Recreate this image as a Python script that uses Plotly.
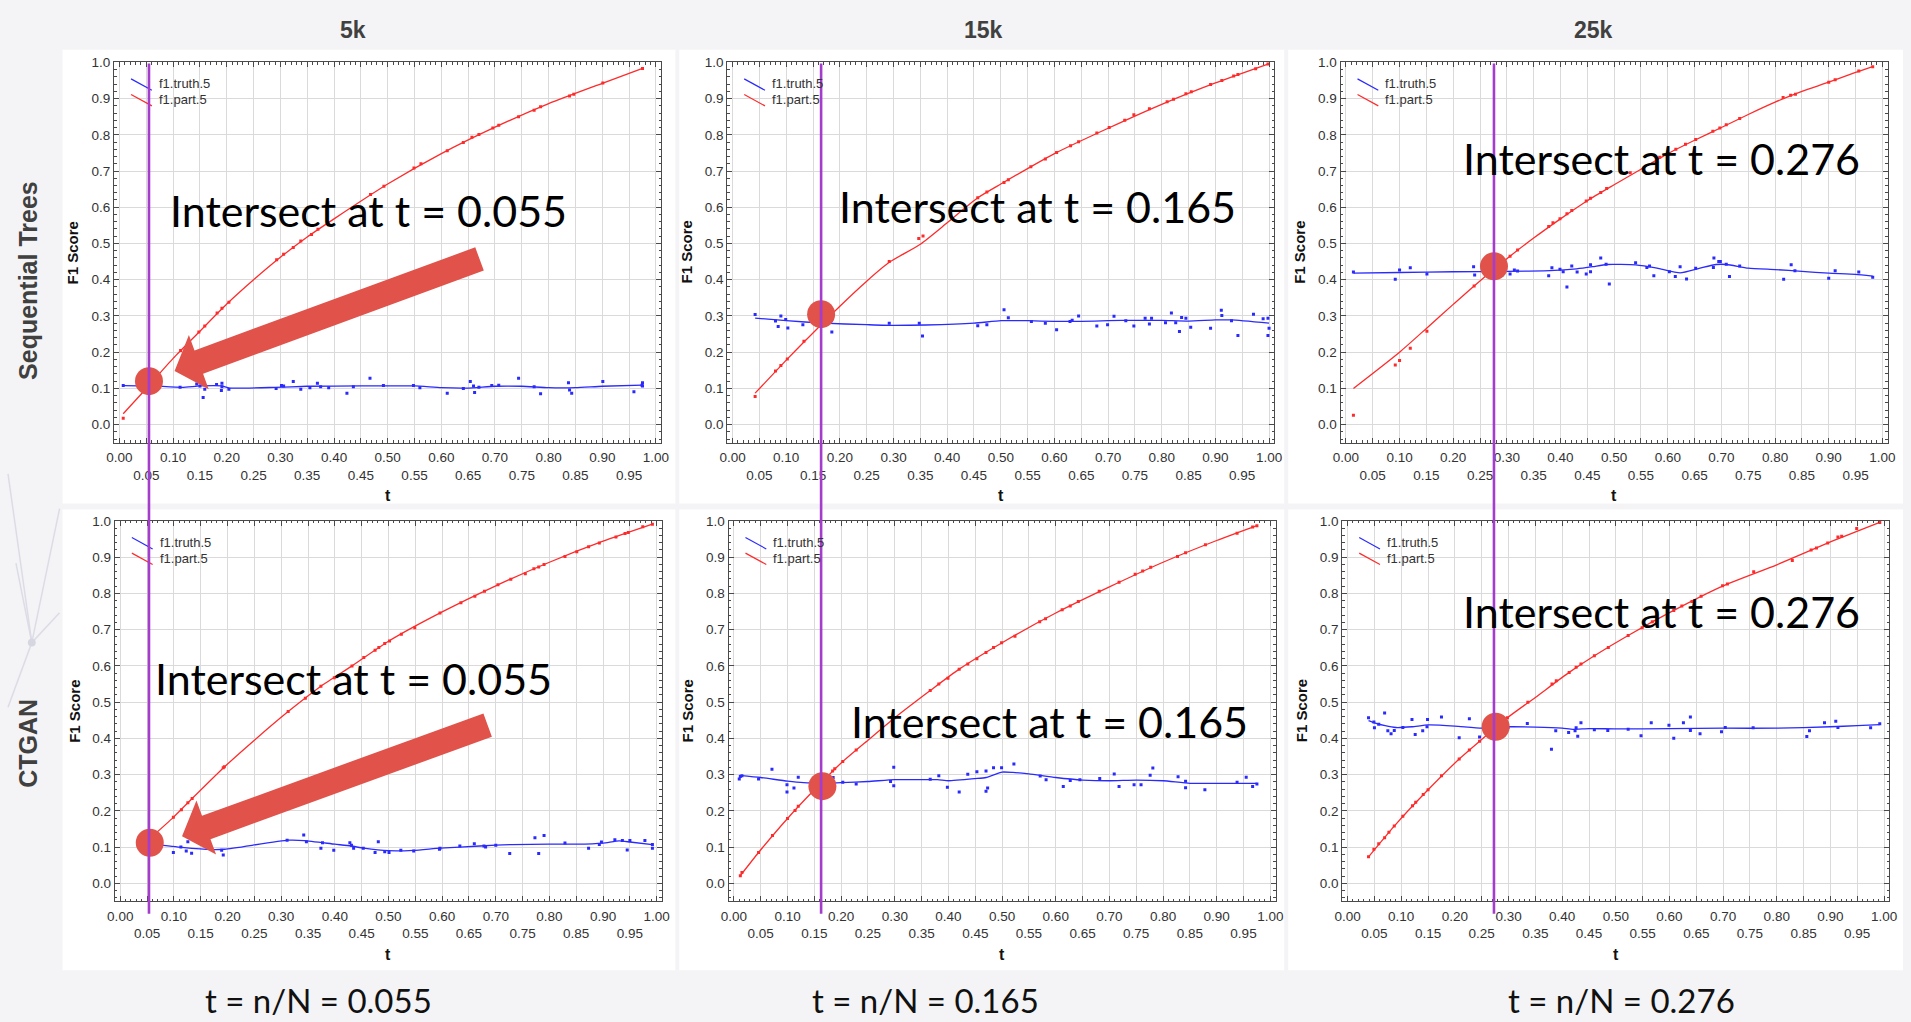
import math
import plotly.graph_objects as go

# ---------------------------------------------------------------------------
# F1 score versus t for the two synthesisers (rows) and three sizes (columns).
# "truth" = f1.truth.5 (blue), "part" = f1.part.5 (red); *_fit = smoothed line.
# ---------------------------------------------------------------------------
row_labels = ["Sequential Trees", "CTGAN"]
col_labels = ["5k", "15k", "25k"]
intersect_t = [0.055, 0.165, 0.276]
intersect_f1 = [0.120, 0.305, 0.437, 0.112, 0.268, 0.432]

# --- Sequential Trees, 5k ---
st5_part_t = [0.007, 0.114, 0.148, 0.159, 0.182, 0.191, 0.204, 0.293, 0.306, 0.324, 0.338, 0.358, 0.370, 0.468, 0.493,
              0.549, 0.562, 0.611, 0.641, 0.657, 0.670, 0.696, 0.707, 0.744, 0.773, 0.785, 0.839, 0.847, 0.901, 0.975]
st5_part_f1 = [0.018, 0.205, 0.256, 0.272, 0.308, 0.321, 0.338, 0.455, 0.470, 0.489, 0.507, 0.525, 0.539, 0.635, 0.658,
               0.708, 0.720, 0.756, 0.779, 0.793, 0.801, 0.819, 0.826, 0.850, 0.868, 0.877, 0.907, 0.912, 0.943, 0.983]
st5_part_fit_t = [0.007, 0.05, 0.1, 0.15, 0.2, 0.25, 0.3, 0.35, 0.4, 0.5, 0.6, 0.7, 0.8, 0.9, 0.975]
st5_part_fit_f1 = [0.030, 0.100, 0.183, 0.258, 0.333, 0.400, 0.462, 0.518, 0.568, 0.664, 0.748, 0.821, 0.886, 0.942, 0.983]
st5_truth_t = [0.007, 0.113, 0.144, 0.150, 0.156, 0.159, 0.181, 0.191, 0.191, 0.190, 0.204, 0.292, 0.302, 0.306, 0.324,
               0.338, 0.355, 0.369, 0.375, 0.390, 0.424, 0.436, 0.467, 0.492, 0.548, 0.560, 0.611, 0.641, 0.654, 0.660,
               0.662, 0.670, 0.694, 0.707, 0.744, 0.773, 0.785, 0.837, 0.839, 0.843, 0.901, 0.959, 0.974, 0.975, 0.975]
st5_truth_f1 = [0.108, 0.103, 0.112, 0.107, 0.075, 0.098, 0.111, 0.114, 0.105, 0.094, 0.098, 0.100, 0.108, 0.107, 0.119,
                0.098, 0.102, 0.114, 0.105, 0.102, 0.087, 0.105, 0.128, 0.108, 0.108, 0.102, 0.087, 0.100, 0.119, 0.107,
                0.089, 0.103, 0.108, 0.109, 0.128, 0.105, 0.085, 0.116, 0.096, 0.087, 0.119, 0.091, 0.109, 0.116, 0.107]
st5_truth_fit_t = [0.007, 0.06, 0.117, 0.15, 0.19, 0.205, 0.29, 0.35, 0.45, 0.55, 0.6, 0.65, 0.7, 0.75, 0.8, 0.85, 0.9, 0.975]
st5_truth_fit_f1 = [0.108, 0.107, 0.103, 0.107, 0.107, 0.101, 0.103, 0.106, 0.107, 0.107, 0.102, 0.101, 0.106, 0.106,
                    0.102, 0.102, 0.106, 0.109]

# --- Sequential Trees, 15k ---
st15_part_t = [0.042, 0.080, 0.090, 0.102, 0.133, 0.292, 0.347, 0.355, 0.457, 0.474, 0.506, 0.514, 0.556, 0.583, 0.604,
               0.630, 0.645, 0.679, 0.702, 0.731, 0.748, 0.777, 0.810, 0.822, 0.845, 0.855, 0.891, 0.912, 0.934, 0.942,
               0.975, 0.998]
st15_part_f1 = [0.078, 0.148, 0.163, 0.181, 0.230, 0.450, 0.514, 0.521, 0.626, 0.642, 0.668, 0.676, 0.712, 0.733, 0.751,
                0.770, 0.781, 0.805, 0.820, 0.840, 0.855, 0.872, 0.891, 0.898, 0.913, 0.919, 0.939, 0.950, 0.962, 0.966,
                0.982, 0.995]
st15_part_fit_t = [0.042, 0.1, 0.133, 0.2, 0.25, 0.292, 0.35, 0.4, 0.457, 0.5, 0.6, 0.7, 0.8, 0.9, 0.998]
st15_part_fit_f1 = [0.087, 0.178, 0.228, 0.327, 0.396, 0.448, 0.498, 0.557, 0.626, 0.664, 0.748, 0.818, 0.884, 0.943, 0.995]
st15_truth_t = [0.042, 0.080, 0.085, 0.090, 0.099, 0.103, 0.131, 0.185, 0.292, 0.348, 0.354, 0.457, 0.474, 0.506, 0.514,
                0.557, 0.583, 0.604, 0.629, 0.633, 0.645, 0.679, 0.699, 0.711, 0.733, 0.748, 0.769, 0.777, 0.781, 0.807,
                0.818, 0.826, 0.833, 0.837, 0.845, 0.854, 0.891, 0.911, 0.912, 0.930, 0.942, 0.971, 0.989, 0.998, 1.000,
                0.998]
st15_truth_f1 = [0.304, 0.286, 0.271, 0.300, 0.290, 0.267, 0.276, 0.256, 0.280, 0.280, 0.245, 0.273, 0.276, 0.317, 0.295,
                 0.285, 0.280, 0.262, 0.285, 0.288, 0.300, 0.272, 0.276, 0.299, 0.287, 0.272, 0.294, 0.278, 0.294, 0.281,
                 0.308, 0.281, 0.257, 0.296, 0.294, 0.269, 0.266, 0.316, 0.301, 0.287, 0.246, 0.305, 0.292, 0.294, 0.266,
                 0.246]
st15_truth_fit_t = [0.042, 0.1, 0.17, 0.25, 0.3, 0.36, 0.45, 0.5, 0.55, 0.6, 0.65, 0.7, 0.75, 0.8, 0.85, 0.9, 0.93, 1.0]
st15_truth_fit_f1 = [0.294, 0.287, 0.280, 0.276, 0.274, 0.275, 0.280, 0.287, 0.287, 0.285, 0.285, 0.287, 0.288, 0.288,
                     0.286, 0.289, 0.289, 0.280]

# --- Sequential Trees, 25k ---
st25_part_t = [0.014, 0.092, 0.100, 0.120, 0.151, 0.239, 0.306, 0.320, 0.378, 0.386, 0.399, 0.412, 0.421, 0.448, 0.456,
               0.475, 0.486, 0.530, 0.585, 0.615, 0.633, 0.652, 0.684, 0.697, 0.709, 0.734, 0.815, 0.829, 0.838, 0.900,
               0.912, 0.956, 0.982]
st25_part_f1 = [0.026, 0.165, 0.177, 0.211, 0.258, 0.383, 0.465, 0.482, 0.547, 0.557, 0.568, 0.582, 0.591, 0.617, 0.625,
                0.641, 0.652, 0.695, 0.738, 0.760, 0.774, 0.787, 0.810, 0.819, 0.828, 0.845, 0.903, 0.909, 0.912, 0.945,
                0.952, 0.976, 0.988]
st25_part_fit_t = [0.014, 0.1, 0.151, 0.2, 0.239, 0.3, 0.35, 0.4, 0.45, 0.5, 0.55, 0.6, 0.65, 0.7, 0.75, 0.8, 0.85, 0.9,
                   0.95, 0.982]
st25_part_fit_f1 = [0.100, 0.200, 0.267, 0.332, 0.383, 0.458, 0.515, 0.568, 0.618, 0.662, 0.705, 0.748, 0.785, 0.820,
                    0.856, 0.890, 0.920, 0.945, 0.972, 0.988]
st25_truth_t = [0.014, 0.092, 0.100, 0.120, 0.151, 0.238, 0.240, 0.306, 0.314, 0.320, 0.378, 0.384, 0.399, 0.405, 0.412,
                0.421, 0.431, 0.448, 0.456, 0.456, 0.475, 0.485, 0.491, 0.540, 0.561, 0.566, 0.574, 0.603, 0.614, 0.623,
                0.635, 0.652, 0.685, 0.686, 0.695, 0.698, 0.709, 0.715, 0.734, 0.816, 0.830, 0.837, 0.900, 0.912, 0.956,
                0.982]
st25_truth_f1 = [0.421, 0.401, 0.427, 0.433, 0.416, 0.436, 0.413, 0.416, 0.427, 0.424, 0.411, 0.433, 0.429, 0.422, 0.380,
                 0.438, 0.421, 0.416, 0.441, 0.422, 0.460, 0.443, 0.388, 0.447, 0.434, 0.438, 0.411, 0.422, 0.409, 0.436,
                 0.402, 0.432, 0.434, 0.460, 0.450, 0.450, 0.443, 0.409, 0.438, 0.401, 0.441, 0.425, 0.404, 0.425, 0.421,
                 0.407]
st25_truth_fit_t = [0.014, 0.1, 0.2, 0.3, 0.38, 0.43, 0.46, 0.486, 0.54, 0.58, 0.623, 0.66, 0.69, 0.71, 0.75, 0.8, 0.85,
                    0.9, 0.95, 0.982]
st25_truth_fit_f1 = [0.418, 0.420, 0.422, 0.423, 0.425, 0.430, 0.436, 0.442, 0.441, 0.432, 0.419, 0.432, 0.442, 0.442,
                     0.432, 0.428, 0.423, 0.418, 0.415, 0.410]

# --- CTGAN, 5k ---
cg5_part_t = [0.099, 0.114, 0.126, 0.134, 0.192, 0.194, 0.313, 0.345, 0.374, 0.399, 0.432, 0.454, 0.475, 0.482, 0.493,
              0.502, 0.524, 0.549, 0.596, 0.635, 0.661, 0.679, 0.704, 0.728, 0.755, 0.771, 0.780, 0.790, 0.829, 0.851,
              0.873, 0.893, 0.924, 0.941, 0.947, 0.974, 0.992]
cg5_part_f1 = [0.182, 0.203, 0.222, 0.234, 0.319, 0.322, 0.474, 0.511, 0.544, 0.567, 0.600, 0.623, 0.643, 0.651, 0.662,
               0.669, 0.687, 0.705, 0.746, 0.774, 0.792, 0.806, 0.824, 0.839, 0.854, 0.868, 0.873, 0.880, 0.902, 0.915,
               0.929, 0.939, 0.956, 0.965, 0.968, 0.984, 0.991]
cg5_part_fit_t = [0.06, 0.099, 0.134, 0.194, 0.25, 0.313, 0.374, 0.432, 0.5, 0.6, 0.7, 0.8, 0.9, 0.992]
cg5_part_fit_f1 = [0.130, 0.182, 0.234, 0.321, 0.395, 0.474, 0.544, 0.600, 0.668, 0.749, 0.821, 0.886, 0.944, 0.991]
cg5_truth_t = [0.099, 0.113, 0.123, 0.126, 0.133, 0.189, 0.192, 0.311, 0.342, 0.347, 0.374, 0.377, 0.398, 0.428, 0.431,
               0.435, 0.453, 0.475, 0.481, 0.493, 0.501, 0.523, 0.547, 0.595, 0.596, 0.633, 0.660, 0.678, 0.681, 0.700,
               0.726, 0.773, 0.780, 0.790, 0.829, 0.873, 0.893, 0.897, 0.922, 0.936, 0.945, 0.950, 0.978, 0.992, 0.992]
cg5_truth_f1 = [0.085, 0.100, 0.089, 0.115, 0.083, 0.091, 0.078, 0.119, 0.133, 0.115, 0.097, 0.112, 0.091, 0.112, 0.105,
                0.097, 0.097, 0.085, 0.115, 0.087, 0.085, 0.091, 0.089, 0.094, 0.097, 0.103, 0.109, 0.103, 0.100, 0.105,
                0.082, 0.126, 0.082, 0.132, 0.111, 0.097, 0.107, 0.114, 0.120, 0.118, 0.092, 0.118, 0.118, 0.107, 0.097]
cg5_truth_fit_t = [0.06, 0.115, 0.171, 0.195, 0.313, 0.343, 0.40, 0.43, 0.454, 0.50, 0.547, 0.596, 0.67, 0.73, 0.80,
                   0.85, 0.90, 0.93, 0.95, 0.992]
cg5_truth_fit_f1 = [0.108, 0.099, 0.093, 0.094, 0.119, 0.118, 0.108, 0.103, 0.097, 0.090, 0.091, 0.097, 0.103, 0.107,
                    0.108, 0.108, 0.111, 0.117, 0.114, 0.107]

# --- CTGAN, 15k ---
cg15_part_t = [0.012, 0.015, 0.046, 0.072, 0.100, 0.114, 0.120, 0.184, 0.188, 0.203, 0.228, 0.300, 0.366, 0.382, 0.399,
               0.420, 0.436, 0.453, 0.470, 0.484, 0.499, 0.524, 0.570, 0.581, 0.612, 0.627, 0.642, 0.681, 0.718, 0.748,
               0.762, 0.777, 0.827, 0.842, 0.879, 0.938, 0.967, 0.975]
cg15_part_f1 = [0.021, 0.030, 0.085, 0.132, 0.179, 0.201, 0.213, 0.310, 0.316, 0.336, 0.368, 0.457, 0.532, 0.550, 0.566,
                0.591, 0.605, 0.620, 0.637, 0.651, 0.664, 0.682, 0.722, 0.730, 0.755, 0.765, 0.778, 0.806, 0.831, 0.853,
                0.862, 0.872, 0.902, 0.912, 0.934, 0.966, 0.983, 0.987]
cg15_part_fit_t = [0.012, 0.046, 0.1, 0.15, 0.2, 0.25, 0.3, 0.366, 0.42, 0.5, 0.6, 0.7, 0.8, 0.9, 0.975]
cg15_part_fit_f1 = [0.021, 0.085, 0.179, 0.258, 0.332, 0.395, 0.457, 0.532, 0.591, 0.664, 0.746, 0.818, 0.886, 0.946, 0.987]
cg15_truth_t = [0.010, 0.012, 0.015, 0.046, 0.071, 0.099, 0.099, 0.112, 0.120, 0.185, 0.187, 0.203, 0.228, 0.292, 0.298,
                0.298, 0.366, 0.382, 0.398, 0.420, 0.436, 0.453, 0.470, 0.470, 0.473, 0.484, 0.499, 0.522, 0.571, 0.582,
                0.614, 0.627, 0.645, 0.682, 0.709, 0.718, 0.746, 0.759, 0.776, 0.781, 0.828, 0.842, 0.842, 0.878, 0.938,
                0.955, 0.967, 0.975]
cg15_truth_f1 = [0.288, 0.295, 0.297, 0.288, 0.315, 0.272, 0.252, 0.263, 0.293, 0.292, 0.261, 0.279, 0.274, 0.281, 0.320,
                 0.269, 0.287, 0.297, 0.265, 0.252, 0.301, 0.308, 0.310, 0.254, 0.263, 0.319, 0.319, 0.329, 0.296, 0.286,
                 0.267, 0.284, 0.286, 0.289, 0.302, 0.267, 0.272, 0.272, 0.298, 0.318, 0.294, 0.282, 0.264, 0.258, 0.279,
                 0.293, 0.267, 0.274]
cg15_truth_fit_t = [0.01, 0.05, 0.1, 0.13, 0.17, 0.2, 0.25, 0.3, 0.35, 0.38, 0.4, 0.45, 0.47, 0.5, 0.52, 0.55, 0.6, 0.65,
                    0.7, 0.75, 0.8, 0.85, 0.9, 0.975]
cg15_truth_fit_f1 = [0.298, 0.292, 0.282, 0.278, 0.277, 0.278, 0.281, 0.286, 0.286, 0.286, 0.283, 0.289, 0.292, 0.307,
                     0.306, 0.302, 0.292, 0.285, 0.283, 0.285, 0.283, 0.276, 0.276, 0.276]

# --- CTGAN, 25k ---
cg25_part_t = [0.039, 0.049, 0.058, 0.069, 0.077, 0.087, 0.103, 0.121, 0.127, 0.141, 0.150, 0.175, 0.208, 0.227, 0.246,
               0.298, 0.336, 0.381, 0.389, 0.413, 0.426, 0.435, 0.460, 0.486, 0.523, 0.549, 0.568, 0.608, 0.623, 0.642,
               0.659, 0.699, 0.708, 0.757, 0.829, 0.864, 0.874, 0.895, 0.914, 0.921, 0.949, 0.992]
cg25_part_f1 = [0.073, 0.094, 0.109, 0.126, 0.141, 0.158, 0.185, 0.214, 0.224, 0.245, 0.258, 0.297, 0.343, 0.368, 0.392,
                0.457, 0.500, 0.550, 0.559, 0.582, 0.596, 0.605, 0.628, 0.651, 0.684, 0.705, 0.722, 0.753, 0.765, 0.778,
                0.792, 0.821, 0.826, 0.860, 0.891, 0.920, 0.925, 0.939, 0.956, 0.958, 0.979, 0.996]
cg25_part_fit_t = [0.039, 0.087, 0.15, 0.208, 0.246, 0.298, 0.35, 0.413, 0.46, 0.523, 0.6, 0.7, 0.8, 0.9, 0.992]
cg25_part_fit_f1 = [0.073, 0.158, 0.258, 0.343, 0.392, 0.457, 0.513, 0.582, 0.628, 0.684, 0.747, 0.821, 0.879, 0.942, 0.996]
cg25_truth_t = [0.039, 0.049, 0.050, 0.058, 0.069, 0.075, 0.081, 0.087, 0.103, 0.120, 0.126, 0.140, 0.148, 0.149, 0.175,
                0.208, 0.227, 0.246, 0.299, 0.335, 0.380, 0.388, 0.412, 0.424, 0.426, 0.429, 0.435, 0.460, 0.485, 0.523,
                0.547, 0.566, 0.599, 0.608, 0.626, 0.639, 0.639, 0.657, 0.697, 0.704, 0.756, 0.856, 0.861, 0.889, 0.910,
                0.914, 0.975, 0.992]
cg25_truth_f1 = [0.457, 0.445, 0.429, 0.439, 0.470, 0.421, 0.413, 0.422, 0.430, 0.452, 0.411, 0.421, 0.432, 0.452, 0.459,
                 0.402, 0.454, 0.404, 0.430, 0.441, 0.370, 0.421, 0.416, 0.421, 0.429, 0.406, 0.443, 0.424, 0.422, 0.425,
                 0.407, 0.443, 0.436, 0.400, 0.443, 0.459, 0.422, 0.413, 0.418, 0.430, 0.429, 0.405, 0.421, 0.443, 0.447,
                 0.430, 0.429, 0.440]
cg25_truth_fit_t = [0.039, 0.05, 0.07, 0.09, 0.12, 0.15, 0.2, 0.25, 0.3, 0.35, 0.4, 0.42, 0.45, 0.5, 0.6, 0.7, 0.8, 0.9,
                    0.95, 0.992]
cg25_truth_fit_f1 = [0.449, 0.443, 0.435, 0.430, 0.432, 0.437, 0.434, 0.428, 0.432, 0.431, 0.428, 0.425, 0.427, 0.426,
                     0.427, 0.428, 0.428, 0.432, 0.435, 0.438]

# x ticks every 0.05, labels staggered over two rows
t_tickvals = [i / 20 for i in range(21)]
t_ticktext = [f"{v:.2f}" if i % 2 == 0 else f"<br>{v:.2f}" for i, v in enumerate(t_tickvals)]

# ---------------------------------------------------------------------------
W, H = 1911, 1022
BLUE = "#2a2aff"
RED = "#ff2b2b"
MARK = "#e0524a"
VLINE = "#a43ccc"
GRID = "#dadada"
FRAME = "#4a4a4a"
SANS = "Liberation Sans, Arial, sans-serif"
SLIDE = "Lato, Noto Sans, sans-serif"


def fx(px):
    return px / W


def fy(py):
    return 1 - py / H


panels = [
    (st5_part_t, st5_part_f1, st5_part_fit_t, st5_part_fit_f1, st5_truth_t, st5_truth_f1, st5_truth_fit_t, st5_truth_fit_f1),
    (st15_part_t, st15_part_f1, st15_part_fit_t, st15_part_fit_f1, st15_truth_t, st15_truth_f1, st15_truth_fit_t, st15_truth_fit_f1),
    (st25_part_t, st25_part_f1, st25_part_fit_t, st25_part_fit_f1, st25_truth_t, st25_truth_f1, st25_truth_fit_t, st25_truth_fit_f1),
    (cg5_part_t, cg5_part_f1, cg5_part_fit_t, cg5_part_fit_f1, cg5_truth_t, cg5_truth_f1, cg5_truth_fit_t, cg5_truth_fit_f1),
    (cg15_part_t, cg15_part_f1, cg15_part_fit_t, cg15_part_fit_f1, cg15_truth_t, cg15_truth_f1, cg15_truth_fit_t, cg15_truth_fit_f1),
    (cg25_part_t, cg25_part_f1, cg25_part_fit_t, cg25_part_fit_f1, cg25_truth_t, cg25_truth_f1, cg25_truth_fit_t, cg25_truth_fit_f1),
]

# plot areas on the page (left, top, right, bottom) in px
boxes = [
    (107.0, 55.5, 658.8, 438.8),
    (725.3, 55.5, 1277.1, 438.8),
    (1343.8, 55.5, 1895.6, 438.8),
    (107.8, 517.3, 659.6, 900.6),
    (726.6, 517.3, 1278.4, 900.6),
    (1345.5, 517.3, 1897.3, 900.6),
]

fig = go.Figure()
layout_axes = {}
shapes = []
annotations = []

# faint network artwork in the slide margin
net_node = (24, 640)
for end in [(0, 470), (52, 505), (0, 705), (52, 610), (8, 560)]:
    shapes.append(dict(type="line", xref="paper", yref="paper", x0=fx(net_node[0]), y0=fy(net_node[1]),
                       x1=fx(end[0]), y1=fy(end[1]), line=dict(color="#dcdce6", width=1.5), layer="below"))
shapes.append(dict(type="circle", xref="paper", yref="paper", x0=fx(20), x1=fx(28), y0=fy(644), y1=fy(636),
                   fillcolor="#d6d6e0", line=dict(width=0), layer="below"))

# slide panels behind each chart screenshot
panel_rects = [(55, 43, 673, 500), (677, 43, 1287, 500), (1291, 43, 1911, 500),
               (55, 506, 673, 970), (677, 506, 1287, 970), (1291, 506, 1911, 970)]
for (l, t, r, b) in panel_rects:
    shapes.append(dict(type="rect", xref="paper", yref="paper", x0=fx(l), x1=fx(r), y0=fy(b), y1=fy(t),
                       fillcolor="white", line=dict(width=0), layer="below"))

for i, (data, box) in enumerate(zip(panels, boxes)):
    s = "" if i == 0 else str(i + 1)
    xa, ya = "x" + s, "y" + s
    p_t, p_f, pf_t, pf_f, tr_t, tr_f, tf_t, tf_f = data
    l, t, r, b = box
    tick_font = dict(family=SANS, size=13.5, color="#333333")
    layout_axes["xaxis" + s] = dict(
        domain=[fx(l), fx(r)], anchor=ya, range=[-0.01, 1.01],
        tickmode="array", tickvals=t_tickvals, ticktext=t_ticktext, tickfont=tick_font, tickangle=0,
        ticklabelstandoff=2,
        showgrid=True, gridcolor=GRID, gridwidth=1, zeroline=False,
        showline=True, linecolor=FRAME, linewidth=1.2, mirror="ticks",
        ticks="inside", ticklen=5, tickcolor=FRAME, tickwidth=1,
        minor=dict(tickmode="linear", tick0=0, dtick=0.01, ticks="inside", ticklen=2.5,
                   tickcolor=FRAME, showgrid=False),
        fixedrange=True)
    layout_axes["yaxis" + s] = dict(
        domain=[fy(b), fy(t)], anchor=xa, range=[-0.05, 1.0005],
        tickmode="linear", tick0=0, dtick=0.1, tickformat=".1f", tickfont=tick_font,
        showgrid=True, gridcolor=GRID, gridwidth=1, zeroline=False,
        showline=True, linecolor=FRAME, linewidth=1.2, mirror="ticks",
        ticks="inside", ticklen=5, tickcolor=FRAME, tickwidth=1,
        minor=dict(tickmode="linear", tick0=0, dtick=0.02, ticks="inside", ticklen=2.5,
                   tickcolor=FRAME, showgrid=False),
        fixedrange=True)

    fig.add_trace(go.Scatter(x=tf_t, y=tf_f, mode="lines", xaxis=xa, yaxis=ya,
                             line=dict(color=BLUE, width=1.3, shape="spline", smoothing=0.5)))
    fig.add_trace(go.Scatter(x=tr_t, y=tr_f, mode="markers", xaxis=xa, yaxis=ya,
                             marker=dict(symbol="square", size=3, color=BLUE)))
    fig.add_trace(go.Scatter(x=pf_t, y=pf_f, mode="lines", xaxis=xa, yaxis=ya,
                             line=dict(color=RED, width=1.3, shape="spline", smoothing=0.6)))
    fig.add_trace(go.Scatter(x=p_t, y=p_f, mode="markers", xaxis=xa, yaxis=ya,
                             marker=dict(symbol="square", size=3, color=RED)))
    # crossing point of the two curves
    fig.add_trace(go.Scatter(x=[intersect_t[i % 3]], y=[intersect_f1[i]], mode="markers", xaxis=xa, yaxis=ya,
                             marker=dict(size=28, color=MARK, line=dict(width=0)), cliponaxis=False))

    # in-plot legend
    dx = xa + " domain"
    dy = ya + " domain"
    for k, (name, col) in enumerate([("f1.truth.5", BLUE), ("f1.part.5", RED)]):
        y_top = 0.956 - k * 0.041
        shapes.append(dict(type="line", xref=dx, yref=dy, x0=0.031, x1=0.069, y0=y_top, y1=y_top - 0.03,
                           line=dict(color=col, width=1.2)))
        annotations.append(dict(xref=dx, yref=dy, x=0.078, y=y_top - 0.013, xanchor="left", yanchor="middle",
                                text=name, showarrow=False, font=dict(family=SANS, size=13, color="#333333")))

    # axis titles
    annotations.append(dict(xref="paper", yref="paper", x=fx(l - 41.5), y=fy((t + b) / 2), text="<b>F1 Score</b>",
                            textangle=-90, showarrow=False, xanchor="center", yanchor="middle",
                            font=dict(family=SANS, size=15, color="#111111")))
    annotations.append(dict(xref="paper", yref="paper", x=fx((l + r) / 2), y=fy(b + 53), text="<b>t</b>",
                            showarrow=False, xanchor="center", yanchor="middle",
                            font=dict(family=SANS, size=16, color="#111111")))

# vertical marker at each intersection t, running through both rows
for c in range(3):
    xa = "x" if c == 0 else "x" + str(c + 1)
    shapes.append(dict(type="line", xref=xa, yref="paper", x0=intersect_t[c], x1=intersect_t[c],
                       y0=fy(913), y1=fy(57), line=dict(color=VLINE, width=2.6), layer="above"))


def block_arrow(tip, tail, shaft_w, head_w, head_len):
    ux, uy = tail[0] - tip[0], tail[1] - tip[1]
    n = math.hypot(ux, uy)
    ux, uy = ux / n, uy / n
    nx, ny = -uy, ux
    bx, by = tip[0] + ux * head_len, tip[1] + uy * head_len
    pts = [tip,
           (bx + nx * head_w / 2, by + ny * head_w / 2),
           (bx + nx * shaft_w / 2, by + ny * shaft_w / 2),
           (tail[0] + nx * shaft_w / 2, tail[1] + ny * shaft_w / 2),
           (tail[0] - nx * shaft_w / 2, tail[1] - ny * shaft_w / 2),
           (bx - nx * shaft_w / 2, by - ny * shaft_w / 2),
           (bx - nx * head_w / 2, by - ny * head_w / 2)]
    return "M " + " L ".join(f"{fx(x):.5f},{fy(y):.5f}" for x, y in pts) + " Z"


for tip, tail in [((168, 366.5), (475.5, 253.7)), ((175.5, 835), (483.7, 723))]:
    shapes.append(dict(type="path", xref="paper", yref="paper", path=block_arrow(tip, tail, 25, 58, 26),
                       fillcolor=MARK, line=dict(width=0), layer="above"))

# captions
intersect_pos = [(364, 205), (1038.6, 201), (1667, 153), (348.5, 676), (1049.8, 719), (1667, 609)]
for i, (x, y) in enumerate(intersect_pos):
    annotations.append(dict(xref="paper", yref="paper", x=fx(x), y=fy(y), showarrow=False,
                            text=f"Intersect at t = {intersect_t[i % 3]:.3f}", xanchor="center", yanchor="middle",
                            font=dict(family=SLIDE, size=43, color="#000000")))

for c, x in enumerate([313, 924.8, 1627]):
    annotations.append(dict(xref="paper", yref="paper", x=fx(x), y=fy(1000), showarrow=False,
                            text=f"t = n/N = {intersect_t[c]:.3f}", xanchor="center", yanchor="middle",
                            font=dict(family=SLIDE, size=33, color="#111111")))

for c, x in enumerate([348, 984, 1598.5]):
    annotations.append(dict(xref="paper", yref="paper", x=fx(x), y=fy(23), showarrow=False,
                            text=f"<b>{col_labels[c]}</b>", xanchor="center", yanchor="middle",
                            font=dict(family=SANS, size=23, color="#404040")))

for r, y in enumerate([275, 741]):
    annotations.append(dict(xref="paper", yref="paper", x=fx(20), y=fy(y), showarrow=False,
                            text=f"<b>{row_labels[r]}</b>", textangle=-90, xanchor="center", yanchor="middle",
                            font=dict(family=SANS, size=25, color="#404040")))

fig.update_layout(
    width=W, height=H, margin=dict(l=0, r=0, t=0, b=0),
    paper_bgcolor="#f4f4f6", plot_bgcolor="white",
    showlegend=False, hovermode=False,
    shapes=shapes, annotations=annotations,
    **layout_axes,
)

fig.write_html("out.html", config={"displayModeBar": False})
